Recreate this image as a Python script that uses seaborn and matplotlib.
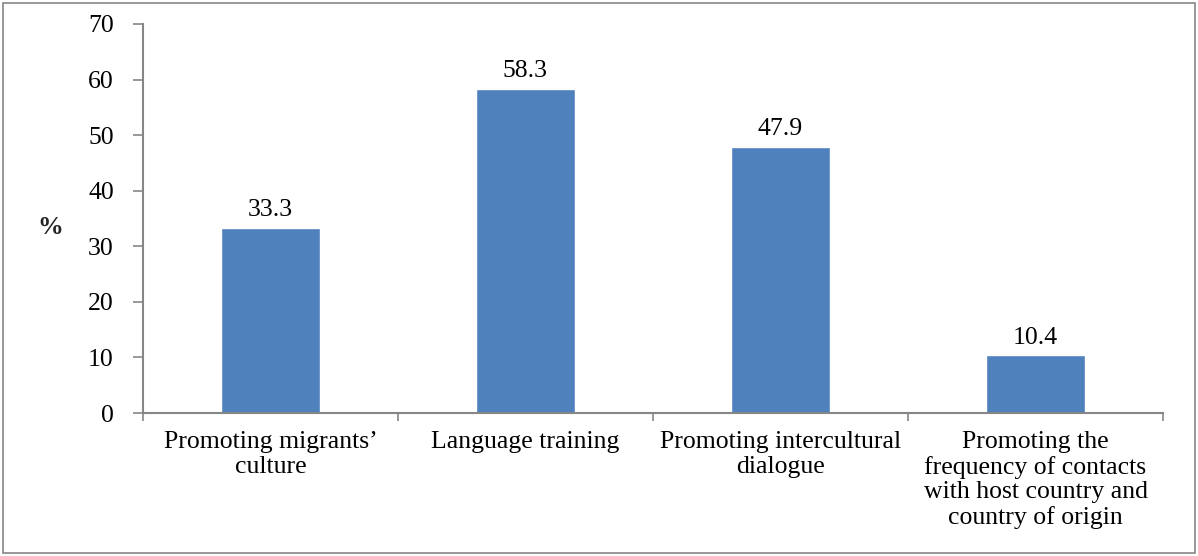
import matplotlib
matplotlib.use("Agg")
import matplotlib.pyplot as plt
from matplotlib.patches import Rectangle
import seaborn as sns
import pandas as pd

categories = [
    "Promoting migrants’\nculture",
    "Language training",
    "Promoting intercultural\ndialogue",
    "Promoting the\nfrequency of contacts\nwith host country and\ncountry of origin",
]
values = [33.3, 58.3, 47.9, 10.4]
y_ticks = [0, 10, 20, 30, 40, 50, 60, 70]

sns.set_theme(style="white")
plt.rcParams["font.family"] = ["Liberation Serif", "DejaVu Serif"]

df = pd.DataFrame({"category": categories, "value": values})

fig = plt.figure(figsize=(11.98, 5.56), dpi=100)
ax = fig.add_axes([143 / 1198, 1 - 413 / 556, (1163 - 143) / 1198, (413 - 24) / 556])

sns.barplot(data=df, x="category", y="value", color="#4F81BD", saturation=1,
            width=0.39, ax=ax)

fs = 18.5
ax.set_ylim(0, 70)
ax.set_xlim(-0.5, len(categories) - 0.5)
ax.set_yticks(y_ticks)
ax.set_yticklabels([str(t) for t in y_ticks], fontsize=fs, color="black")
ax.set_xticks(range(len(categories)))
ax.set_xticklabels(categories, fontsize=fs, color="black", linespacing=1.15)
ax.tick_params(axis="x", length=0, pad=13)
ax.tick_params(axis="y", length=7, width=1.2, color="#868686", direction="out",
               left=True, pad=14)

# minor ticks on x mark the boundaries between categories
ax.set_xticks([i - 0.5 for i in range(len(categories) + 1)], minor=True)
ax.tick_params(axis="x", which="minor", length=6, width=1.2, color="#868686",
               direction="out", bottom=True)

for side in ["top", "right"]:
    ax.spines[side].set_visible(False)
for side in ["left", "bottom"]:
    ax.spines[side].set_color("#868686")
    ax.spines[side].set_linewidth(1.5)

ax.set_xlabel("")
ax.set_ylabel("%", rotation=0, fontsize=fs, fontweight="bold",
              va="center", ha="center")
ax.yaxis.set_label_coords((50 - 143) / 1020, (413 - 228) / 389)

for i, v in enumerate(values):
    ax.text(i, v + 1.2, f"{v:.1f}", ha="center", va="bottom", fontsize=fs,
            color="black")

# outer frame around the whole chart
fig.patches.append(Rectangle((3 / 1198, 3 / 556), 1 - 6 / 1198, 1 - 6 / 556,
                             transform=fig.transFigure, fill=False,
                             edgecolor="#868686", linewidth=1.2))

fig.savefig("out.png", dpi=100)
